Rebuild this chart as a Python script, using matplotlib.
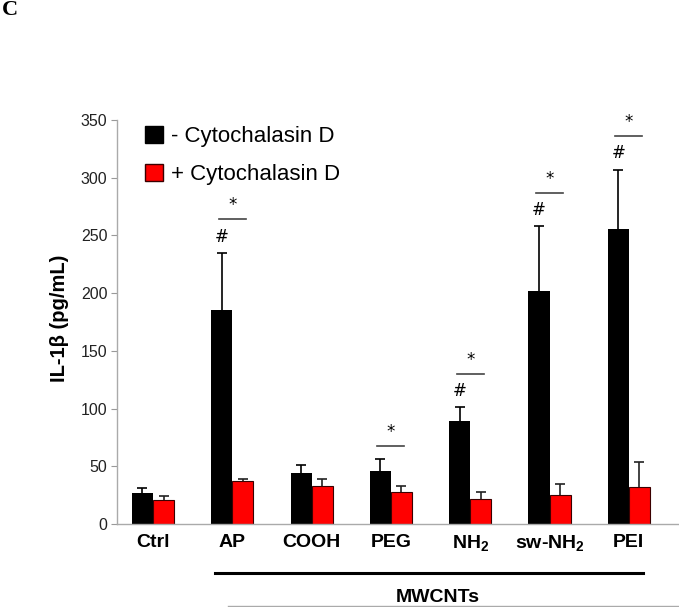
import numpy as np
import matplotlib
matplotlib.use("Agg")
import matplotlib.pyplot as plt
from matplotlib.lines import Line2D
from matplotlib.patches import Patch

plt.rcParams["font.family"] = ["Liberation Sans", "DejaVu Sans"]
plt.rcParams["mathtext.fontset"] = "custom"
plt.rcParams["mathtext.rm"] = "Liberation Sans"
plt.rcParams["mathtext.bf"] = "Liberation Sans:bold"

# data (IL-1beta, pg/mL)
groups = ["Ctrl", "AP", "COOH", "PEG", r"NH$_\mathbf{2}$", r"sw-NH$_\mathbf{2}$", "PEI"]
minus_cd = [27, 185, 44, 46, 89, 202, 256]
minus_cd_err = [4, 50, 7, 10, 12, 56, 51]
plus_cd = [21, 37, 33, 28, 22, 25, 32]
plus_cd_err = [3, 2, 6, 5, 6, 10, 22]
hash_marks = [False, True, False, False, True, True, True]   # vs Ctrl
star_marks = [False, True, False, True, True, True, True]    # - vs + CytD

x = np.arange(len(groups))
w = 0.265

fig = plt.figure(figsize=(6.79, 6.07), dpi=100)
ax = fig.add_axes([117 / 679, 83 / 607, 562 / 679, 404 / 607])

ax.bar(x - w / 2, minus_cd, w, color="black", zorder=2)
ax.bar(x + w / 2, plus_cd, w, color="#ff0000", edgecolor="#3a0000", linewidth=0.8, zorder=2)
for xs, vals, errs, col in [(x - w / 2, minus_cd, minus_cd_err, "black"),
                            (x + w / 2, plus_cd, plus_cd_err, "#222222")]:
    eb = ax.errorbar(xs, vals, yerr=[np.zeros(len(x)), errs], fmt="none",
                     ecolor=col, elinewidth=1.2, capsize=3.5, capthick=1.2, zorder=3)
    eb[1][0].set_visible(False)  # upper caps only

# significance marks
for i in range(len(x)):
    top = max(minus_cd[i] + minus_cd_err[i], plus_cd[i] + plus_cd_err[i])
    if hash_marks[i]:
        ax.text(x[i] - w / 2, top + 14, "#", ha="center", va="center", fontsize=12,
                family="DejaVu Sans")
        base = top + 29
    else:
        base = top + 12
    if star_marks[i]:
        ax.plot([x[i] - 0.17, x[i] + 0.17], [base, base], color="#444444", lw=1.2)
        ax.text(x[i], base + 12, "*", ha="center", va="center", fontsize=12,
                family="DejaVu Sans")

ax.set_xlim(-0.454, 6.633)
ax.set_ylim(0, 350)
ax.set_yticks(np.arange(0, 351, 50))
ax.set_xticks(x)
ax.set_xticklabels(groups, fontsize=14, fontweight="bold")
ax.tick_params(axis="x", length=0, pad=7)
ax.tick_params(axis="y", length=4, color="#999999", labelsize=11.5, pad=3, labelcolor="#222222")
for s in ["top", "right"]:
    ax.spines[s].set_visible(False)
for s in ["left", "bottom"]:
    ax.spines[s].set_color("#aaaaaa")
    ax.spines[s].set_linewidth(1.0)
ax.set_ylabel("IL-1β (pg/mL)", fontsize=14.5, fontweight="bold")
ax.yaxis.set_label_coords(-0.085, 0.51)

handles = [Patch(facecolor="black", edgecolor="black"),
           Patch(facecolor="#ff0000", edgecolor="#3a0000")]
ax.legend(handles, ["- Cytochalasin D", "+ Cytochalasin D"], loc="upper left",
          bbox_to_anchor=(0.015, 1.035), frameon=False, fontsize=16,
          handlelength=0.8, handleheight=0.8, handletextpad=0.35, labelspacing=0.75)

# MWCNTs bracket
fig.add_artist(Line2D([215 / 679, 643 / 679], [1 - 573 / 607] * 2, color="black", lw=2.2))
fig.add_artist(Line2D([228 / 679, 1.0], [1 - 606 / 607] * 2, color="#aaaaaa", lw=1.0))
fig.text(438 / 679, 1 - 598 / 607, "MWCNTs", ha="center", va="center",
         fontsize=14, fontweight="bold")

fig.text(0.003, 1 - 10 / 607, "C", ha="left", va="center", fontsize=16,
         fontweight="bold", family="Liberation Serif")

fig.savefig("out.png", dpi=100)
